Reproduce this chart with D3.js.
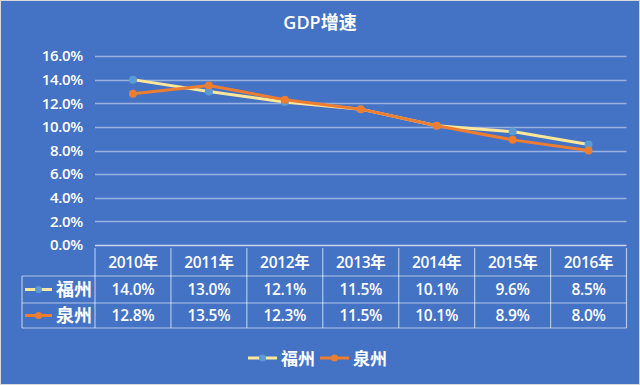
<!DOCTYPE html>
<html><head><meta charset="utf-8">
<script src="https://cdn.jsdelivr.net/npm/d3@7"></script>
<style>
html,body{margin:0;padding:0;background:#fff;}
svg{display:block;}
text{font-family:"Open Sans","Noto Sans CJK SC",sans-serif;fill:#fff;}
</style></head>
<body>
<script>
const title = "GDP增速";
const years = ["2010年","2011年","2012年","2013年","2014年","2015年","2016年"];
const seriesNames = ["福州","泉州"];
const fuzhou = [14.0,13.0,12.1,11.5,10.1,9.6,8.5];
const quanzhou = [12.8,13.5,12.3,11.5,10.1,8.9,8.0];
const yTicks = [0,2,4,6,8,10,12,14,16];

const W=640,H=385;
const bg="#4472C4";
const lineCols=["#FFE699","#ED7D31"];
const markCols=["#5B9BD5","#ED7D31"];
const gridCol="rgba(255,255,255,0.45)";
const tableCol="rgba(255,255,255,0.6)";
const series=[{name:seriesNames[0],values:fuzhou},{name:seriesNames[1],values:quanzhou}];

const svg=d3.select("body").append("svg").attr("width",W).attr("height",H);
svg.append("rect").attr("x",0.5).attr("y",0.5).attr("width",W-1).attr("height",H-1)
  .attr("fill",bg).attr("stroke","#D9D9D9").attr("stroke-width",1);

svg.append("text").attr("x",320).attr("y",29).attr("text-anchor","middle")
  .attr("font-size",18).attr("font-weight",600).text(title);

const x=d3.scaleBand().domain(years).range([95,626.5]);
const y=d3.scaleLinear().domain([0,16]).range([245,56]);

// grid
svg.append("g").selectAll("line").data(yTicks).join("line")
  .attr("x1",95).attr("x2",626.5).attr("y1",d=>Math.round(y(d))+0.5).attr("y2",d=>Math.round(y(d))+0.5)
  .attr("stroke",d=>d===0?"rgba(255,255,255,0.7)":gridCol).attr("stroke-width",1.3);

// y axis
const yAxis=d3.axisLeft(y).tickValues(yTicks).tickFormat(d=>d3.format(".1f")(d)+"%").tickSize(0).tickPadding(12);
const ga=svg.append("g").attr("transform","translate(95,0)").call(yAxis);
ga.select(".domain").remove();
ga.selectAll("text").attr("font-size",15).attr("font-weight",600).attr("fill","#fff")
  .style("font-family","'Open Sans',sans-serif").attr("letter-spacing",-0.3);

// lines
const line=d3.line().x((d,i)=>x(years[i])+x.bandwidth()/2).y(d=>y(d));
series.forEach((s,k)=>{
  svg.append("path").datum(s.values).attr("d",line).attr("fill","none")
    .attr("stroke",lineCols[k]).attr("stroke-width",3).attr("stroke-linejoin","round");
  svg.append("g").selectAll("circle").data(s.values).join("circle")
    .attr("cx",(d,i)=>x(years[i])+x.bandwidth()/2).attr("cy",d=>y(d)).attr("r",4)
    .attr("fill",markCols[k]);
});

// data table
const rowY=[248,276,303,328];
const tg=svg.append("g");
const bounds=years.map(d=>x(d)).concat([x.range()[1]]);
tg.selectAll("line.v").data(bounds).join("line")
  .attr("x1",d=>d).attr("x2",d=>d).attr("y1",rowY[0]).attr("y2",rowY[3])
  .attr("stroke",tableCol).attr("stroke-width",1.2);
tg.selectAll("line.h").data(rowY.slice(1)).join("line")
  .attr("x1",22).attr("x2",626.5).attr("y1",d=>d).attr("y2",d=>d)
  .attr("stroke",tableCol).attr("stroke-width",1.2);
tg.append("line").attr("x1",22).attr("x2",22).attr("y1",rowY[1]).attr("y2",rowY[3])
  .attr("stroke",tableCol).attr("stroke-width",1.2);
tg.selectAll("text.hd").data(years).join("text")
  .attr("x",d=>x(d)+x.bandwidth()/2).attr("y",(rowY[0]+rowY[1])/2+5.5).attr("text-anchor","middle")
  .attr("font-size",15.5).attr("font-weight",600).attr("letter-spacing",-0.3).text(d=>d);
series.forEach((s,k)=>{
  const cy=(rowY[k+1]+rowY[k+2])/2;
  tg.selectAll("text.r"+k).data(s.values).join("text")
    .attr("x",(d,i)=>x(years[i])+x.bandwidth()/2).attr("y",cy+5.5).attr("text-anchor","middle")
    .attr("font-size",15.5).attr("font-weight",600).attr("letter-spacing",-0.3).text(d=>d3.format(".1f")(d)+"%");
  tg.append("line").attr("x1",25).attr("x2",52).attr("y1",cy).attr("y2",cy)
    .attr("stroke",lineCols[k]).attr("stroke-width",3);
  tg.append("circle").attr("cx",38.5).attr("cy",cy).attr("r",3.5).attr("fill",markCols[k]);
  tg.append("text").attr("x",56).attr("y",cy+6.5).attr("font-size",18).attr("font-weight",600)
    .style("font-family","'Noto Sans CJK SC',sans-serif").text(s.name);
});

// legend
const lg=svg.append("g");
const legX=[248,320];
series.forEach((s,k)=>{
  const ly=358;
  lg.append("line").attr("x1",legX[k]).attr("x2",legX[k]+29).attr("y1",ly).attr("y2",ly)
    .attr("stroke",lineCols[k]).attr("stroke-width",3);
  lg.append("circle").attr("cx",legX[k]+14.5).attr("cy",ly).attr("r",3.5).attr("fill",markCols[k]);
  lg.append("text").attr("x",legX[k]+33).attr("y",ly+6.5).attr("font-size",17).attr("font-weight",600)
    .style("font-family","'Noto Sans CJK SC',sans-serif").text(s.name);
});
</script>
</body></html>
